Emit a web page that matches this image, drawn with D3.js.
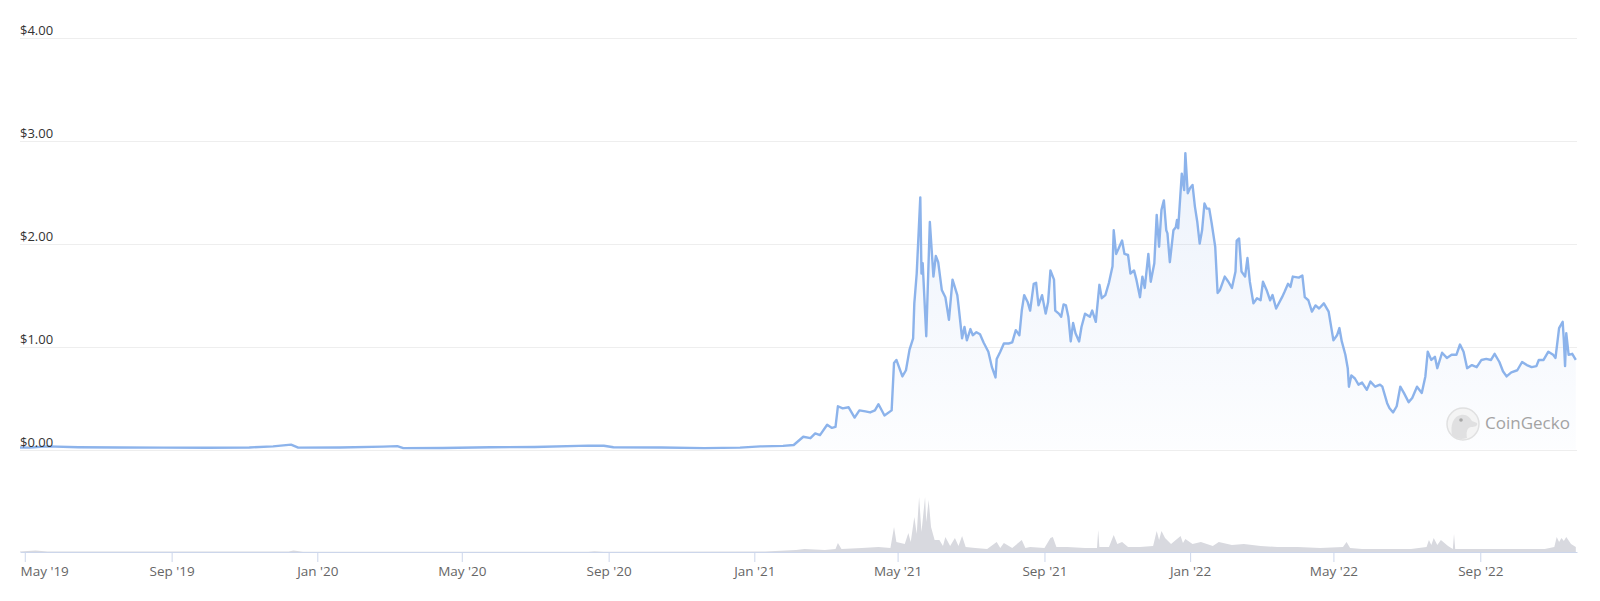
<!DOCTYPE html>
<html>
<head>
<meta charset="utf-8">
<script src="https://cdn.jsdelivr.net/npm/d3@7"></script>
<style>
  body { margin: 0; background: #fff; }
  svg { display: block; font-family: "Open Sans", sans-serif; }
</style>
</head>
<body>
<div id="chart"></div>
<script>
// price in USD
const prices = [
  ["2019-04-27", 0.02], ["2019-05-05", 0.018], ["2019-05-20", 0.03], ["2019-06-15", 0.022],
  ["2019-07-20", 0.02], ["2019-08-25", 0.018], ["2019-10-01", 0.017], ["2019-11-05", 0.02],
  ["2019-11-25", 0.03], ["2019-12-10", 0.047], ["2019-12-16", 0.018], ["2020-01-20", 0.02],
  ["2020-02-25", 0.028], ["2020-03-08", 0.033], ["2020-03-13", 0.013], ["2020-04-15", 0.014],
  ["2020-05-25", 0.022], ["2020-07-01", 0.025], ["2020-08-15", 0.038], ["2020-08-28", 0.036],
  ["2020-09-05", 0.022], ["2020-10-15", 0.02], ["2020-11-20", 0.013], ["2020-12-20", 0.018],
  ["2021-01-06", 0.03], ["2021-01-25", 0.035],
  ["2021-02-03", 0.044], ["2021-02-11", 0.124], ["2021-02-17", 0.11], ["2021-02-21", 0.157],
  ["2021-02-25", 0.14], ["2021-03-03", 0.24], ["2021-03-07", 0.21], ["2021-03-10", 0.22],
  ["2021-03-12", 0.42], ["2021-03-16", 0.40], ["2021-03-21", 0.41], ["2021-03-26", 0.31],
  ["2021-03-30", 0.38], ["2021-04-04", 0.37], ["2021-04-08", 0.36], ["2021-04-12", 0.38],
  ["2021-04-15", 0.44], ["2021-04-20", 0.33], ["2021-04-26", 0.38], ["2021-04-28", 0.84],
  ["2021-04-30", 0.87], ["2021-05-05", 0.71], ["2021-05-08", 0.77], ["2021-05-11", 0.97],
  ["2021-05-14", 1.08], ["2021-05-15", 1.42], ["2021-05-17", 1.71], ["2021-05-20", 2.45],
  ["2021-05-21", 1.71], ["2021-05-22", 1.81], ["2021-05-25", 1.10], ["2021-05-28", 2.21],
  ["2021-05-31", 1.68], ["2021-06-02", 1.88], ["2021-06-04", 1.82], ["2021-06-07", 1.55],
  ["2021-06-10", 1.48], ["2021-06-13", 1.26], ["2021-06-16", 1.65], ["2021-06-20", 1.50],
  ["2021-06-21", 1.40], ["2021-06-24", 1.08], ["2021-06-26", 1.19], ["2021-06-28", 1.06],
  ["2021-07-01", 1.17], ["2021-07-03", 1.11], ["2021-07-06", 1.14], ["2021-07-09", 1.12],
  ["2021-07-12", 1.04], ["2021-07-16", 0.95], ["2021-07-19", 0.80], ["2021-07-22", 0.70],
  ["2021-07-23", 0.88], ["2021-07-26", 0.95], ["2021-07-29", 1.03], ["2021-08-02", 1.03],
  ["2021-08-05", 1.04], ["2021-08-08", 1.16], ["2021-08-11", 1.11], ["2021-08-13", 1.35],
  ["2021-08-15", 1.50], ["2021-08-18", 1.43], ["2021-08-20", 1.35], ["2021-08-23", 1.61],
  ["2021-08-25", 1.62], ["2021-08-27", 1.40], ["2021-08-30", 1.50], ["2021-09-02", 1.32],
  ["2021-09-04", 1.43], ["2021-09-06", 1.74], ["2021-09-09", 1.65], ["2021-09-10", 1.35],
  ["2021-09-13", 1.32], ["2021-09-15", 1.29], ["2021-09-17", 1.41], ["2021-09-19", 1.40],
  ["2021-09-21", 1.29], ["2021-09-23", 1.05], ["2021-09-25", 1.23], ["2021-09-27", 1.13],
  ["2021-09-30", 1.05], ["2021-10-02", 1.19], ["2021-10-05", 1.32], ["2021-10-09", 1.29],
  ["2021-10-11", 1.35], ["2021-10-14", 1.24], ["2021-10-17", 1.60], ["2021-10-19", 1.47],
  ["2021-10-22", 1.50], ["2021-10-25", 1.62], ["2021-10-28", 1.78], ["2021-10-29", 2.13],
  ["2021-10-31", 1.90], ["2021-11-02", 1.95], ["2021-11-05", 2.03], ["2021-11-07", 1.90],
  ["2021-11-10", 1.89], ["2021-11-12", 1.71], ["2021-11-15", 1.74], ["2021-11-17", 1.65],
  ["2021-11-20", 1.48], ["2021-11-22", 1.68], ["2021-11-24", 1.57], ["2021-11-27", 1.90],
  ["2021-11-29", 1.63], ["2021-12-02", 1.81], ["2021-12-04", 2.28], ["2021-12-06", 1.97],
  ["2021-12-08", 2.33], ["2021-12-10", 2.42], ["2021-12-12", 2.13], ["2021-12-13", 2.10],
  ["2021-12-15", 1.82], ["2021-12-18", 2.13], ["2021-12-20", 2.16], ["2021-12-21", 2.23],
  ["2021-12-22", 2.15], ["2021-12-25", 2.68], ["2021-12-27", 2.52], ["2021-12-28", 2.88],
  ["2021-12-30", 2.49], ["2022-01-01", 2.54], ["2022-01-03", 2.57], ["2022-01-05", 2.36],
  ["2022-01-07", 2.21], ["2022-01-09", 2.00], ["2022-01-11", 2.13], ["2022-01-13", 2.39],
  ["2022-01-15", 2.34], ["2022-01-17", 2.34], ["2022-01-19", 2.20], ["2022-01-22", 1.97],
  ["2022-01-24", 1.52], ["2022-01-26", 1.55], ["2022-01-30", 1.68], ["2022-02-02", 1.63],
  ["2022-02-05", 1.57], ["2022-02-08", 1.73], ["2022-02-09", 2.03], ["2022-02-11", 2.05],
  ["2022-02-13", 1.73], ["2022-02-16", 1.68], ["2022-02-18", 1.86], ["2022-02-20", 1.63],
  ["2022-02-23", 1.42], ["2022-02-26", 1.47], ["2022-03-01", 1.45], ["2022-03-03", 1.63],
  ["2022-03-06", 1.55], ["2022-03-09", 1.45], ["2022-03-11", 1.50], ["2022-03-14", 1.37],
  ["2022-03-19", 1.48], ["2022-03-21", 1.53], ["2022-03-24", 1.61], ["2022-03-26", 1.58],
  ["2022-03-28", 1.68], ["2022-04-02", 1.67], ["2022-04-05", 1.69], ["2022-04-07", 1.48],
  ["2022-04-10", 1.45], ["2022-04-13", 1.34], ["2022-04-16", 1.40], ["2022-04-19", 1.37],
  ["2022-04-23", 1.42], ["2022-04-27", 1.34], ["2022-05-01", 1.06], ["2022-05-04", 1.11],
  ["2022-05-06", 1.18], ["2022-05-08", 1.05], ["2022-05-11", 0.92], ["2022-05-13", 0.79],
  ["2022-05-14", 0.61], ["2022-05-16", 0.72], ["2022-05-19", 0.69], ["2022-05-22", 0.63],
  ["2022-05-25", 0.65], ["2022-05-29", 0.58], ["2022-06-01", 0.66], ["2022-06-05", 0.61],
  ["2022-06-09", 0.63], ["2022-06-11", 0.61], ["2022-06-15", 0.45], ["2022-06-17", 0.40],
  ["2022-06-20", 0.36], ["2022-06-23", 0.42], ["2022-06-26", 0.61], ["2022-06-29", 0.55],
  ["2022-07-03", 0.46], ["2022-07-06", 0.50], ["2022-07-10", 0.61], ["2022-07-14", 0.55],
  ["2022-07-17", 0.71], ["2022-07-19", 0.95], ["2022-07-22", 0.87], ["2022-07-25", 0.90],
  ["2022-07-27", 0.79], ["2022-07-31", 0.94], ["2022-08-04", 0.89], ["2022-08-08", 0.92],
  ["2022-08-12", 0.92], ["2022-08-15", 1.02], ["2022-08-18", 0.95], ["2022-08-21", 0.79],
  ["2022-08-25", 0.82], ["2022-08-29", 0.80], ["2022-09-02", 0.87], ["2022-09-06", 0.88],
  ["2022-09-10", 0.87], ["2022-09-13", 0.93], ["2022-09-17", 0.85], ["2022-09-20", 0.76],
  ["2022-09-23", 0.71], ["2022-09-27", 0.75], ["2022-10-02", 0.77], ["2022-10-06", 0.85],
  ["2022-10-10", 0.82], ["2022-10-14", 0.80], ["2022-10-18", 0.81], ["2022-10-20", 0.87],
  ["2022-10-24", 0.87], ["2022-10-28", 0.95], ["2022-11-01", 0.92], ["2022-11-03", 0.89],
  ["2022-11-06", 1.18], ["2022-11-09", 1.24], ["2022-11-10", 1.06], ["2022-11-11", 0.81],
  ["2022-11-12", 1.13], ["2022-11-14", 0.92], ["2022-11-17", 0.93], ["2022-11-20", 0.87]
];

// traded volume, millions USD (rough)
const volumes = [
  ["2019-04-27", 0.5], ["2019-05-10", 1.5], ["2019-05-20", 0.4], ["2019-12-08", 0.4],
  ["2019-12-12", 1.5], ["2019-12-20", 0.3], ["2020-08-15", 0.3], ["2020-08-20", 0.8],
  ["2020-08-28", 0.3], ["2021-01-10", 0.5], ["2021-02-05", 2], ["2021-02-12", 3],
  ["2021-03-01", 2], ["2021-03-10", 3], ["2021-03-12", 9], ["2021-03-15", 3],
  ["2021-04-01", 4], ["2021-04-15", 5], ["2021-04-25", 4], ["2021-04-28", 25],
  ["2021-04-30", 10], ["2021-05-07", 8], ["2021-05-10", 19], ["2021-05-12", 10],
  ["2021-05-15", 35], ["2021-05-17", 18], ["2021-05-19", 55], ["2021-05-21", 20],
  ["2021-05-24", 55], ["2021-05-25", 30], ["2021-05-27", 52], ["2021-05-29", 25],
  ["2021-06-01", 12], ["2021-06-05", 12], ["2021-06-08", 6], ["2021-06-10", 15],
  ["2021-06-14", 6], ["2021-06-18", 14], ["2021-06-21", 6], ["2021-06-24", 16],
  ["2021-06-27", 5], ["2021-07-05", 4], ["2021-07-15", 3], ["2021-07-23", 10],
  ["2021-07-26", 4], ["2021-07-29", 9], ["2021-08-05", 4], ["2021-08-13", 12],
  ["2021-08-16", 4], ["2021-08-20", 5], ["2021-09-01", 4], ["2021-09-06", 14],
  ["2021-09-08", 15], ["2021-09-11", 5], ["2021-09-20", 5], ["2021-10-05", 4],
  ["2021-10-15", 4], ["2021-10-16", 22], ["2021-10-17", 5], ["2021-10-25", 5],
  ["2021-10-29", 17], ["2021-11-01", 8], ["2021-11-05", 10], ["2021-11-10", 5],
  ["2021-11-20", 5], ["2021-12-01", 6], ["2021-12-04", 21], ["2021-12-06", 12],
  ["2021-12-08", 21], ["2021-12-11", 14], ["2021-12-16", 8], ["2021-12-24", 16],
  ["2021-12-26", 9], ["2021-12-28", 13], ["2022-01-03", 8], ["2022-01-10", 10],
  ["2022-01-20", 6], ["2022-01-25", 10], ["2022-02-05", 7], ["2022-02-15", 8],
  ["2022-03-01", 6], ["2022-03-15", 5], ["2022-04-01", 5], ["2022-04-20", 4],
  ["2022-05-09", 5], ["2022-05-12", 10], ["2022-05-15", 4], ["2022-05-25", 3],
  ["2022-06-15", 3], ["2022-07-05", 3], ["2022-07-18", 5], ["2022-07-20", 12],
  ["2022-07-22", 7], ["2022-07-24", 14], ["2022-07-27", 7], ["2022-07-30", 12],
  ["2022-08-05", 6], ["2022-08-09", 3], ["2022-08-10", 18], ["2022-08-11", 3],
  ["2022-09-01", 3], ["2022-10-01", 3], ["2022-10-25", 3], ["2022-11-02", 5],
  ["2022-11-04", 15], ["2022-11-06", 10], ["2022-11-08", 14], ["2022-11-10", 11],
  ["2022-11-12", 15], ["2022-11-16", 8], ["2022-11-20", 5]
];

const tickDates = ["2019-05-01", "2019-09-01", "2020-01-01", "2020-05-01", "2020-09-01",
  "2021-01-01", "2021-05-01", "2021-09-01", "2022-01-01", "2022-05-01", "2022-09-01"];
const yTicks = [0, 1, 2, 3, 4];

const parse = d3.utcParse("%Y-%m-%d");
const W = 1600, H = 601;

const svg = d3.select("#chart").append("svg")
  .attr("width", W)
  .attr("height", H);

// plot geometry
const x = d3.scaleUtc()
  .domain([parse("2019-04-27"), parse("2022-11-21")])
  .range([20, 1577]);
const y = d3.scaleLinear().domain([0, 4]).range([449.5, 37.8]);
const yVol = d3.scaleLinear().domain([0, 70]).range([552, 482]);

const priceData = prices.map(d => ({ date: parse(d[0]), value: d[1] }));
const volData = volumes.map(d => ({ date: parse(d[0]), value: d[1] }));

// gradient for the area under the line
const grad = svg.append("defs").append("linearGradient")
  .attr("id", "fillGrad")
  .attr("gradientUnits", "userSpaceOnUse")
  .attr("x1", 0).attr("y1", y(2.9))
  .attr("x2", 0).attr("y2", y(0));
grad.append("stop").attr("offset", 0).attr("stop-color", "#7ba3e6").attr("stop-opacity", 0.14);
grad.append("stop").attr("offset", 1).attr("stop-color", "#7ba3e6").attr("stop-opacity", 0.02);

// grid lines
svg.append("g")
  .selectAll("line")
  .data(yTicks)
  .enter()
  .append("line")
  .attr("x1", 20).attr("x2", 1577)
  .attr("y1", d => Math.round(y(d)) + 0.5)
  .attr("y2", d => Math.round(y(d)) + 0.5)
  .attr("stroke", "#eeeeee")
  .attr("stroke-width", 1);

// volume
const volArea = d3.area()
  .x(d => x(d.date))
  .y0(yVol(0))
  .y1(d => yVol(d.value));
svg.append("path")
  .datum(volData)
  .attr("d", volArea)
  .attr("fill", "#d8d9df");

// price area + line
const area = d3.area()
  .x(d => x(d.date))
  .y0(y(0))
  .y1(d => y(d.value));
svg.append("path")
  .datum(priceData)
  .attr("d", area)
  .attr("fill", "url(#fillGrad)");

// watermark
const wm = svg.append("g").attr("transform", "translate(1463,424)").attr("opacity", 0.85);
wm.append("circle").attr("r", 16).attr("fill", "#f3f3f3").attr("stroke", "#dcdcdc").attr("stroke-width", 1.5);
wm.append("path")
  .attr("d", "M-11,11 C-13,2 -10,-8 -2,-9 C4,-10 7,-6 9,-3 L14,-1 C15,2 12,3 8,3 C4,4 3,8 4,14 C-2,16 -8,15 -11,11 Z")
  .attr("fill", "#dcdcdc");
wm.append("circle").attr("cx", -2).attr("cy", -4).attr("r", 1.8).attr("fill", "#9a9a9a");
svg.append("text")
  .attr("x", 1485)
  .attr("y", 429)
  .attr("font-size", 17)
  .attr("fill", "#a3a3a3")
  .text("CoinGecko");

const line = d3.line()
  .x(d => x(d.date))
  .y(d => y(d.value));
svg.append("path")
  .datum(priceData)
  .attr("d", line)
  .attr("fill", "none")
  .attr("stroke", "#8cb3eb")
  .attr("stroke-width", 2.4)
  .attr("stroke-linejoin", "round");

// y labels
svg.append("g")
  .selectAll("text")
  .data(yTicks)
  .enter()
  .append("text")
  .attr("x", 20)
  .attr("y", d => y(d) - 2.5)
  .attr("font-size", 13)
  .attr("fill", "#333")
  .text(d => "$" + d3.format(".2f")(d));

// x axis
const xAxis = d3.axisBottom(x)
  .tickValues(tickDates.map(parse))
  .tickFormat(d3.utcFormat("%b '%y"))
  .tickSize(10)
  .tickSizeOuter(0)
  .tickPadding(4);

const gx = svg.append("g")
  .attr("transform", "translate(0,552)")
  .call(xAxis);
gx.select(".domain").attr("stroke", "#ccd6eb");
gx.selectAll(".tick line").attr("stroke", "#ccd6eb");
gx.selectAll(".tick text")
  .attr("fill", "#666")
  .attr("font-size", 13.5)
  .attr("font-family", "'Open Sans', sans-serif");
// first label is pushed inside the plot
gx.select(".tick text")
  .attr("text-anchor", "start")
  .attr("x", 20 - x(parse(tickDates[0])));
</script>
</body>
</html>
